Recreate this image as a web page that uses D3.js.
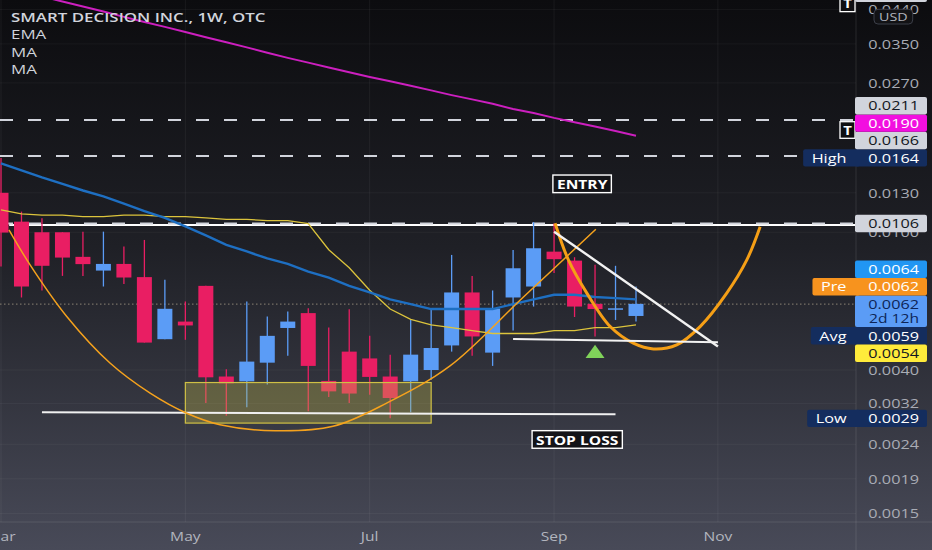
<!DOCTYPE html>
<html>
<head>
<meta charset="utf-8">
<script src="https://cdn.jsdelivr.net/npm/d3@7"></script>
<style>
  html, body { margin: 0; padding: 0; background: #0d0d10; }
  svg { display: block; font-family: "Open Sans", sans-serif; }
</style>
</head>
<body>
<svg id="chart"></svg>
<script>
// ---- data (weekly bars, index 0 = first visible week) ----
const opens  = [0.0130, 0.01073, 0.0100, 0.0100, 0.00849, 0.00775, 0.0081, 0.00742, 0.00491, 0.00552,
                0.0070, 0.00383, 0.00371, 0.0042, 0.00529, 0.00584, 0.00372, 0.00452, 0.00432, 0.00383,
                0.00371, 0.0040, 0.00471, 0.0067, 0.00449, 0.00648, 0.00697, 0.00879, 0.00828, 0.00621,
                0.0060, 0.00573];
const highs  = [0.0164, 0.01147, 0.01098, 0.0100, 0.01004, 0.01004, 0.00909, 0.0095, 0.00729, 0.00631,
                0.0070, 0.00402, 0.00631, 0.00571, 0.0059, 0.00603, 0.00531, 0.00599, 0.00502, 0.00443,
                0.00561, 0.00599, 0.0086, 0.00748, 0.00679, 0.00889, 0.0107, 0.0106, 0.00847, 0.00805,
                0.0080, 0.00697];
const lows   = [0.00796, 0.00648, 0.00679, 0.00748, 0.00748, 0.00697, 0.00709, 0.0048, 0.00491, 0.00489,
                0.00321, 0.00295, 0.00312, 0.00363, 0.0044, 0.00304, 0.00334, 0.00321, 0.00339, 0.0029,
                0.00302, 0.00375, 0.00452, 0.0044, 0.00411, 0.0052, 0.0061, 0.00762, 0.00569, 0.0050,
                0.00558, 0.00552];
const closes = [0.00998, 0.00697, 0.0080, 0.00845, 0.00809, 0.0081, 0.0074, 0.0048, 0.00601, 0.00538,
                0.00381, 0.00366, 0.00423, 0.00502, 0.00552, 0.00411, 0.00347, 0.00342, 0.00382, 0.00332,
                0.00443, 0.00463, 0.0067, 0.0050, 0.00602, 0.00787, 0.00899, 0.00836, 0.0061, 0.0060,
                0.00603, 0.00621];

// indicators, one value per bar
const ema    = [0.0158, 0.0151, 0.0144, 0.0138, 0.0132, 0.0127, 0.0121, 0.0115, 0.0110, 0.0104,
                0.0098, 0.0092, 0.0088, 0.0084, 0.0081, 0.0077, 0.0074, 0.0070, 0.0067, 0.0064,
                0.0062, 0.0060, 0.0060, 0.0060, 0.0060, 0.0062, 0.0064, 0.0066, 0.0066, 0.0065,
                0.00645, 0.0064];
const maShort = [0.0116, 0.0113, 0.0112, 0.0112, 0.0111, 0.0111, 0.0112, 0.0112, 0.0111, 0.0111,
                0.0110, 0.0109, 0.0109, 0.0108, 0.0108, 0.0106, 0.0089, 0.0079, 0.0068, 0.0060,
                0.0056, 0.0054, 0.0053, 0.0052, 0.0051, 0.0051, 0.0051, 0.0052, 0.0052, 0.0053,
                0.0053, 0.0054];
const maLong = [0.0514, 0.0497, 0.0480, 0.0464, 0.0449, 0.0434, 0.0419, 0.0405, 0.0392, 0.0379,
                0.0366, 0.0354, 0.0342, 0.0330, 0.0319, 0.0309, 0.0299, 0.0290, 0.0281, 0.0273,
                0.0265, 0.0257, 0.0249, 0.0242, 0.0235, 0.0227, 0.0221, 0.0214, 0.0208, 0.0202,
                0.0196, 0.0190];

const monthTicks  = [0, 9, 18, 27, 35];
const monthLabels = ["Mar", "May", "Jul", "Sep", "Nov"];
const priceTicks  = [0.0440, 0.0350, 0.0270, 0.0130, 0.0100, 0.0040, 0.0032, 0.00244, 0.00194, 0.00154];

const legendLines = ["SMART DECISION INC., 1W, OTC", "EMA", "MA", "MA"];

// right-axis labels, in placement priority order
const axisLabelValues = [0.0062, 0.0062, 0.0064, 0.0059, 0.0054, 0.0164, 0.0166, 0.0190, 0.0211, 0.0106, 0.0029, 0.0490];
const axisLabelTags   = ["", "Pre", "", "Avg", "", "High", "", "", "", "", "Low", ""];
const countdownText   = "2d 12h";

// drawings: [bar index, price]
const dashedLevels  = [0.0490, 0.0211, 0.0166, 0.0106];
const solidLevel    = [0.4, 0.0105];
const lastPrice     = 0.0062;
const cupArc        = [[0.39, 0.01016], [1.42, 0.00805], [3.21, 0.00571], [5.32, 0.00419], [7.28, 0.00343],
                       [9.07, 0.0030], [10.69, 0.00278], [13.38, 0.00267], [16.21, 0.00275], [18.83, 0.00321],
                       [21.92, 0.00411], [25.48, 0.00648], [29.04, 0.0102]];
const projection    = [[27.05, 0.01062], [27.7, 0.00832], [28.6, 0.00667], [29.74, 0.00534], [30.87, 0.00478],
                       [31.85, 0.0046], [32.99, 0.00473], [34.13, 0.00534], [35.43, 0.00667], [36.41, 0.00832],
                       [37.06, 0.01038]];
const upperTrend    = [[27, 0.01004], [35, 0.00468]];
const lowerTrend    = [[25, 0.00492], [35, 0.00481]];
const supportLine   = [[2, 0.00302], [30, 0.00298]];
const accumBox      = [[9, 0.00368], [21, 0.00281]];
const arrowMark     = [29, 0.00473];
const entryNote     = [28.37, 0.0138, "ENTRY"];
const stopNote      = [28.13, 0.00252, "STOP LOSS"];

// ---- layout ----
const width = 932;
const height = 550;
const plotW = 856;
const plotH = 522;
const SX = 1.3;   // screenshot text is wide

const UP = '#5b9cf6';
const DOWN = '#e91e63';

const svg = d3.select('svg#chart').attr('width', width).attr('height', height);
const defs = svg.append('defs');
const grad = defs.append('linearGradient').attr('id', 'bg')
  .attr('x1', 0).attr('y1', 0).attr('x2', 0).attr('y2', 1);
[[0, '#0c0c0f'], [0.45, '#1f2026'], [1, '#484a58']].forEach(s =>
  grad.append('stop').attr('offset', s[0]).attr('stop-color', s[1]));
defs.append('clipPath').attr('id', 'plot').append('rect').attr('width', plotW).attr('height', plotH);

svg.append('rect').attr('width', width).attr('height', height).attr('fill', 'url(#bg)');

const x = d3.scaleLinear().domain([0, 31]).range([1, 636]);
const y = d3.scaleLog().domain([0.0211, 0.0040]).range([120, 370]);
const fmt = d3.format('.4f');
const line = d3.line().x(d => x(d[0])).y(d => y(d[1]));
const curve = d3.line().x(d => x(d[0])).y(d => y(d[1])).curve(d3.curveCatmullRom);

function addText(sel, px, py, str, size, fill, anchor, weight, baseline) {
  return sel.append('text')
    .attr('transform', `translate(${px},${py}) scale(${SX},1)`)
    .attr('text-anchor', anchor || 'start')
    .attr('dominant-baseline', baseline || 'central')
    .attr('font-size', size)
    .attr('font-weight', weight || 400)
    .attr('fill', fill)
    .text(str);
}

// grid
const grid = svg.append('g').attr('clip-path', 'url(#plot)');
grid.selectAll('line.vg').data(monthTicks).join('line').attr('class', 'vg')
  .attr('x1', d => x(d)).attr('x2', d => x(d)).attr('y1', 0).attr('y2', plotH)
  .attr('stroke', 'rgba(255,255,255,0.055)');
grid.selectAll('line.hg').data(priceTicks).join('line').attr('class', 'hg')
  .attr('x1', 0).attr('x2', plotW).attr('y1', d => y(d)).attr('y2', d => y(d))
  .attr('stroke', 'rgba(255,255,255,0.045)');

const plot = svg.append('g').attr('clip-path', 'url(#plot)');

// horizontal levels
plot.append('line')
  .attr('x1', x(solidLevel[0])).attr('x2', plotW)
  .attr('y1', y(solidLevel[1])).attr('y2', y(solidLevel[1]))
  .attr('stroke', '#ffffff').attr('stroke-width', 2);
plot.selectAll('line.lvl').data(dashedLevels).join('line').attr('class', 'lvl')
  .attr('x1', 0).attr('x2', plotW).attr('y1', d => y(d)).attr('y2', d => y(d))
  .attr('stroke', '#d1d4dc').attr('stroke-width', 2).attr('stroke-dasharray', '13 15');
plot.append('line')
  .attr('x1', 0).attr('x2', plotW).attr('y1', y(lastPrice)).attr('y2', y(lastPrice))
  .attr('stroke', '#8c8474').attr('stroke-width', 1).attr('stroke-dasharray', '1.5 2.5');

// candles
const bars = d3.range(opens.length).map(i => ({ i, o: opens[i], h: highs[i], l: lows[i], c: closes[i] }));
const cg = plot.append('g');
cg.selectAll('line.wick').data(bars).join('line').attr('class', 'wick')
  .attr('x1', d => x(d.i)).attr('x2', d => x(d.i))
  .attr('y1', d => y(d.h)).attr('y2', d => y(d.l))
  .attr('stroke', d => d.c >= d.o ? UP : DOWN).attr('stroke-width', 1.3);
cg.selectAll('rect.body').data(bars).join('rect').attr('class', 'body')
  .attr('x', d => x(d.i) - 7.5).attr('width', 15)
  .attr('y', d => y(Math.max(d.o, d.c)))
  .attr('height', d => Math.max(1.5, Math.abs(y(d.o) - y(d.c))))
  .attr('fill', d => d.c >= d.o ? UP : DOWN);

// accumulation box
plot.append('rect')
  .attr('x', x(accumBox[0][0])).attr('width', x(accumBox[1][0]) - x(accumBox[0][0]))
  .attr('y', y(accumBox[0][1])).attr('height', y(accumBox[1][1]) - y(accumBox[0][1]))
  .attr('fill', 'rgba(199,190,76,0.32)').attr('stroke', '#cfc045').attr('stroke-width', 1.2);

// indicators
plot.append('path').datum(maShort.map((v, i) => [i, v])).attr('d', line)
  .attr('fill', 'none').attr('stroke', '#dcc43c').attr('stroke-width', 1.3);
plot.append('path').datum(ema.map((v, i) => [i, v])).attr('d', line)
  .attr('fill', 'none').attr('stroke', '#1e6fc2').attr('stroke-width', 2.4);
plot.append('path').datum(maLong.map((v, i) => [i, v])).attr('d', line)
  .attr('fill', 'none').attr('stroke', '#cc1fbf').attr('stroke-width', 2);

// drawings
plot.append('path').datum(supportLine).attr('d', line)
  .attr('stroke', '#f0f0f0').attr('stroke-width', 2);
plot.append('path').datum(cupArc).attr('d', curve)
  .attr('fill', 'none').attr('stroke', '#f5a21d').attr('stroke-width', 1.5);
plot.append('path').datum(projection).attr('d', curve)
  .attr('fill', 'none').attr('stroke', '#f59f16').attr('stroke-width', 3);
plot.append('path').datum(upperTrend).attr('d', line)
  .attr('stroke', '#f2f2f2').attr('stroke-width', 2.4);
plot.append('path').datum(lowerTrend).attr('d', line)
  .attr('stroke', '#f2f2f2').attr('stroke-width', 2);

const ax = x(arrowMark[0]), ay = y(arrowMark[1]);
plot.append('path')
  .attr('d', `M${ax},${ay} L${ax + 9.5},${ay + 13.3} L${ax - 9.5},${ay + 13.3} Z`)
  .attr('fill', '#80d35a');

function note(d) {
  const g = plot.append('g');
  const t = addText(g, x(d[0]), y(d[1]) + 0.5, d[2], 12, '#ffffff', 'middle', 700);
  const w = t.node().getComputedTextLength() * SX + 8;
  g.insert('rect', 'text')
    .attr('x', x(d[0]) - w / 2).attr('y', y(d[1]) - 8.8)
    .attr('width', w).attr('height', 17.6)
    .attr('fill', '#131317').attr('stroke', '#ffffff').attr('stroke-width', 1.4);
}
note(entryNote);
note(stopNote);

// "T" markers at line ends
[dashedLevels[0], dashedLevels[1]].forEach(v => {
  const g = plot.append('g');
  g.append('rect').attr('x', 840).attr('y', y(v) + 1.7).attr('width', 15).attr('height', 16.6)
    .attr('fill', '#0f0f12').attr('stroke', '#ffffff').attr('stroke-width', 1.3);
  addText(g, 847.5, y(v) + 10.2, 'T', 11.5, '#ffffff', 'middle', 700);
});

// legend
const lg = svg.append('g');
legendLines.forEach((s, i) => {
  addText(lg, 11, 21.7 + i * 17.5, s, 13, '#d1d4dc', 'start', i === 0 ? 600 : 400, 'alphabetic');
});

// axes frame
svg.append('line').attr('x1', plotW).attr('x2', plotW).attr('y1', 0).attr('y2', height)
  .attr('stroke', 'rgba(255,255,255,0.1)');
svg.append('line').attr('x1', 0).attr('x2', width).attr('y1', plotH).attr('y2', plotH)
  .attr('stroke', 'rgba(255,255,255,0.1)');

// x axis
const xg = svg.append('g');
monthTicks.forEach((m, i) => addText(xg, x(m), 536, monthLabels[i], 12, '#b2b5be', 'middle'));

// y axis ticks
const yg = svg.append('g');
priceTicks.forEach(v => addText(yg, 919, y(v), fmt(v), 12.5, '#a9acb5', 'end'));

// right-axis price labels, greedy placement so boxes do not overlap
const labelStyles = [
  { bg: '#5b9cf6', fg: '#0d2557' },
  { bg: '#f7931e', fg: '#ffffff' },
  { bg: '#2196f3', fg: '#ffffff' },
  { bg: '#142d5e', fg: '#ffffff' },
  { bg: '#ffeb3b', fg: '#131722' },
  { bg: '#142d5e', fg: '#ffffff' },
  { bg: '#d1d4dc', fg: '#131722' },
  { bg: '#f20fe0', fg: '#ffffff' },
  { bg: '#d1d4dc', fg: '#131722' },
  { bg: '#d1d4dc', fg: '#131722' },
  { bg: '#142d5e', fg: '#ffffff' },
  { bg: '#d1d4dc', fg: '#131722' }
];
const half = 8.7;
const placed = [];
axisLabelValues.forEach((v, i) => {
  const ideal = y(v);
  const up = half;
  const down = i === 0 ? half + 14.3 : half;
  const free = c => placed.every(p => c - up >= p.bottom - 0.01 || c + down <= p.top + 0.01);
  const cands = [ideal];
  placed.forEach(p => { cands.push(p.top - down); cands.push(p.bottom + up); });
  const best = cands.filter(free).sort((a, b) => Math.abs(a - ideal) - Math.abs(b - ideal))[0];
  placed.push({ i, v, cy: best, top: best - up, bottom: best + down });
});

const lbl = svg.append('g');
placed.forEach(p => {
  const st = labelStyles[p.i];
  const g = lbl.append('g');
  g.append('rect').attr('x', 855).attr('y', p.top).attr('width', 72).attr('height', p.bottom - p.top)
    .attr('rx', 2).attr('fill', st.bg);
  addText(g, 919, p.cy, fmt(p.v), 12.5, st.fg, 'end');
  if (p.i === 0) addText(g, 919, p.cy + 14.5, countdownText, 12, st.fg, 'end');
  const tag = axisLabelTags[p.i];
  if (tag) {
    const t = addText(g, 0, p.cy, tag, 12.5, st.fg, 'start');
    const w = t.node().getComputedTextLength() * SX;
    const left = 855 - w - 17;
    t.attr('transform', `translate(${left + 8.5},${p.cy}) scale(${SX},1)`);
    g.insert('rect', 'text').attr('x', left).attr('y', p.top).attr('width', 860 - left)
      .attr('height', p.bottom - p.top).attr('rx', 2).attr('fill', st.bg);
  }
});

// currency badge
const ub = svg.append('g');
ub.append('rect').attr('x', 874).attr('y', 9.3).attr('width', 38.7).attr('height', 14.7)
  .attr('rx', 4).attr('fill', '#121215').attr('stroke', '#3b3e48');
addText(ub, 893.3, 16.9, 'USD', 11, '#b2b5be', 'middle');
</script>
</body>
</html>
